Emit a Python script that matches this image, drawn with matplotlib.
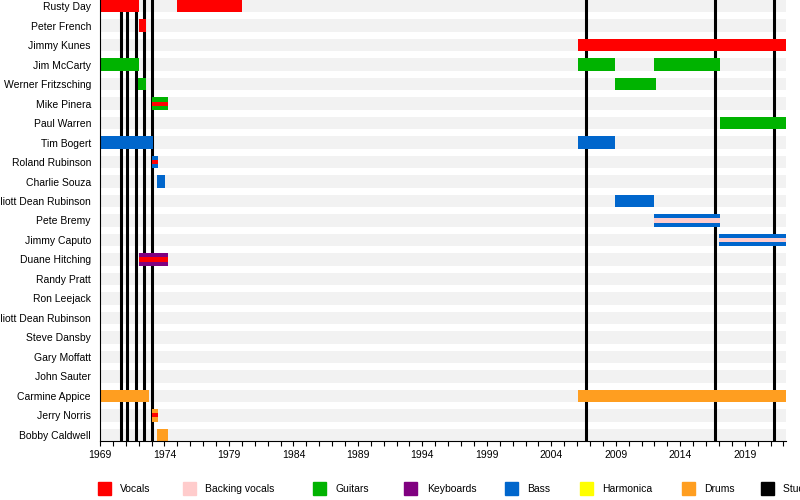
import matplotlib
matplotlib.use('Agg')
import matplotlib.pyplot as plt
from matplotlib.patches import Rectangle


plt.rcParams['font.family'] = ['Liberation Sans', 'DejaVu Sans']

# Band members, top to bottom
members = ['Rusty Day', 'Peter French', 'Jimmy Kunes', 'Jim McCarty',
           'Werner Fritzsching', 'Mike Pinera', 'Paul Warren', 'Tim Bogert',
           'Roland Rubinson', 'Charlie Souza', 'Elliott Dean Rubinson',
           'Pete Bremy', 'Jimmy Caputo', 'Duane Hitching', 'Randy Pratt',
           'Ron Leejack', 'Elliott Dean Rubinson', 'Steve Dansby',
           'Gary Moffatt', 'John Sauter', 'Carmine Appice', 'Jerry Norris',
           'Bobby Caldwell']

# Tenures: row index, start, end, main role, second role (stripe)
tenure_row = [0, 0, 1, 2, 3, 3, 3, 4, 4, 5, 6, 7, 7, 8, 9, 10, 11, 12,
              13, 20, 20, 21, 22]
tenure_start = [1969.0, 1975.0, 1972.0, 2006.05, 1969.0, 2006.05, 2012.0,
                1971.95, 2008.9, 1973.05, 2017.05, 1969.0, 2006.05, 1973.03,
                1973.42, 2008.9, 2011.95, 2017.0, 1972.0, 1969.0, 2006.05,
                1973.05, 1973.42]
tenure_end = [1972.0, 1980.0, 1972.6, 2022.2, 1972.0, 2008.95, 2017.1,
              1972.6, 2012.1, 1974.25, 2022.2, 1973.1, 2008.95, 1973.47,
              1974.05, 2012.0, 2017.1, 2022.2, 1974.25, 1972.8, 2022.2,
              1973.5, 1974.25]
tenure_role = ['Vocals', 'Vocals', 'Vocals', 'Vocals', 'Guitars', 'Guitars',
               'Guitars', 'Guitars', 'Guitars', 'Guitars', 'Guitars', 'Bass',
               'Bass', 'Bass', 'Bass', 'Bass', 'Bass', 'Bass', 'Keyboards',
               'Drums', 'Drums', 'Drums', 'Drums']
tenure_stripe = [None, None, None, None, None, None, None, None, None,
                 'Vocals', None, None, None, 'Vocals', None, None,
                 'Backing vocals', 'Backing vocals', 'Vocals', None, None,
                 'Vocals', None]

# Studio album release dates
albums = [1970.6, 1971.07, 1971.77, 1972.43, 1973.05, 2006.67, 2016.67, 2021.3]

legend_labels = ['Vocals', 'Backing vocals', 'Guitars', 'Keyboards', 'Bass',
                 'Harmonica', 'Drums', 'Studio albums']
role_colors = {'Vocals': '#ff0000', 'Backing vocals': '#ffcccc',
               'Guitars': '#00b300', 'Keyboards': '#800080',
               'Bass': '#0066cc', 'Harmonica': '#ffff00',
               'Drums': '#ff9e20', 'Studio albums': '#000000'}

x_start, x_end = 1969.0, 2022.2
bar_h = 0.62

fig = plt.figure(figsize=(8, 5), dpi=100)
ax = fig.add_axes([0.125, 1 - 441 / 500, (786 - 100) / 800, 441 / 500])

rows = list(range(len(members)))

# light grey background band for every row
ax.barh(rows, x_end - x_start, left=x_start, height=bar_h,
        color='#f2f2f2', zorder=0)

for a in albums:
    ax.axvline(a, color='black', linewidth=2.2, zorder=1)

for r, s, e, role, stripe in zip(tenure_row, tenure_start, tenure_end,
                                 tenure_role, tenure_stripe):
    ax.barh(r, e - s, left=s, height=bar_h, color=role_colors[role],
            zorder=2)
    if stripe is not None:
        ax.barh(r, e - s, left=s, height=bar_h / 3,
                color=role_colors[stripe], zorder=3)

ax.set_xlim(x_start, x_end)
ax.set_ylim(len(members) - 1 + 0.31, -0.31)
ax.set_yticks(rows)
ax.set_yticklabels(members, fontsize=7.5)
ax.tick_params(axis='y', length=0, pad=6.5)

ax.set_xticks(range(1969, 2023, 5))
ax.set_xticks(range(1969, 2023), minor=True)
ax.tick_params(axis='x', which='both', length=3.5, width=0.8,
               labelsize=7.5, pad=3, direction='out')

for side in ['top', 'right']:
    ax.spines[side].set_visible(False)
ax.spines['left'].set_linewidth(0.8)
ax.spines['bottom'].set_linewidth(0.8)

# legend along the bottom
sq_left = [98, 183, 313, 404, 505, 580, 682, 761]
txt_left = [120, 205, 335, 427, 527, 602, 704, 783]
for lbl, sx, tx in zip(legend_labels, sq_left, txt_left):
    fig.patches.append(Rectangle((sx / 800, 1 - 495 / 500), 13 / 800,
                                 13 / 500, transform=fig.transFigure,
                                 color=role_colors[lbl]))
    fig.text(tx / 800, 1 - 488.5 / 500, lbl, fontsize=7.5, va='center',
             ha='left')

fig.savefig('out.png', dpi=100)
